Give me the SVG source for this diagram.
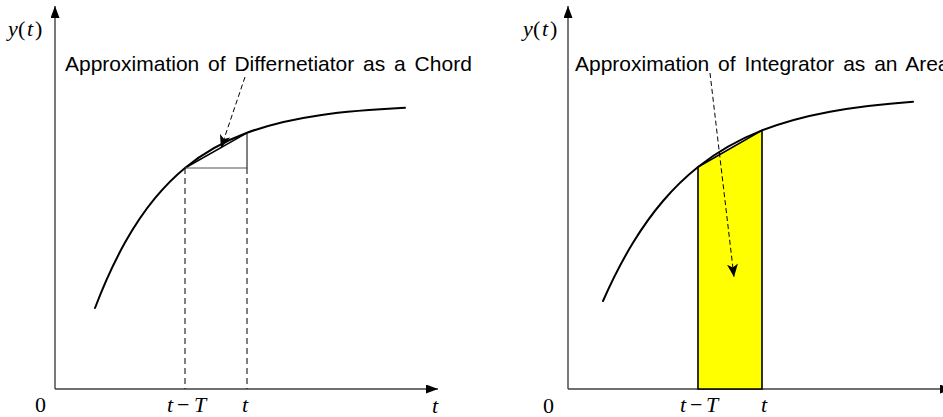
<svg xmlns="http://www.w3.org/2000/svg" width="943" height="417" viewBox="0 0 943 417">
<defs>
<style>
.axis{stroke:#404040;stroke-width:1.4;fill:none}
.curve{stroke:#000;stroke-width:2;fill:none;stroke-linecap:round}
.dash{stroke:#000;stroke-width:1;stroke-dasharray:6,4;fill:none}
.lead{stroke:#000;stroke-width:1;stroke-dasharray:5,3;fill:none}
.thin{stroke:#000;stroke-width:1;fill:none}
.lbl{font-family:"Liberation Sans",Arial,sans-serif;font-size:21px;word-spacing:3px;fill:#000}
.math{font-family:"Liberation Serif","Times New Roman",serif;font-size:22px;fill:#000}
.it{font-style:italic}
</style>
<marker id="axarrow" viewBox="0 0 12 9" refX="12" refY="4.5" markerWidth="12" markerHeight="9" markerUnits="userSpaceOnUse" orient="auto">
<path d="M0,0 L12,4.5 L0,9 Z" fill="#000"/>
</marker>
<marker id="leadarrow" viewBox="0 0 13 11" refX="13" refY="5.5" markerWidth="13" markerHeight="11" markerUnits="userSpaceOnUse" orient="auto">
<path d="M0,0 L13,5.5 L0,11 L3.5,5.5 Z" fill="#000"/>
</marker>
</defs>

<g id="left-panel">
<g id="left-axes">
<line class="axis" x1="55" y1="389" x2="55" y2="6" marker-end="url(#axarrow)"/>
<line class="axis" x1="55" y1="389" x2="438" y2="389" marker-end="url(#axarrow)"/>
</g>
<g id="left-curve">
<path class="curve" d="M95,308 C105,281.7 115,260.5 125,242.6 C135,224.8 145,210.3 155,198.2 C165,186.1 175,176.2 185,168 C205.7,151 226.3,140.5 247,132.8 C271.3,123.8 295.7,118.7 320,115.2 C348.3,111.1 376.7,109.2 405,107.8"/>
</g>
<g id="left-chord">
<line x1="185" y1="168" x2="247" y2="132.8" stroke="#000" stroke-width="1.5"/>
<line x1="185" y1="168" x2="247" y2="168" stroke="#555" stroke-width="1"/>
<line x1="247" y1="132.8" x2="247" y2="168" class="thin"/>
<line class="dash" x1="185" y1="168" x2="185" y2="389"/>
<line class="dash" x1="247" y1="168" x2="247" y2="389"/>
</g>
<g id="left-label">
<text class="lbl" x="65" y="71">Approximation of Differnetiator as a Chord</text>
<line class="lead" x1="245" y1="77" x2="221" y2="148" marker-end="url(#leadarrow)"/>
</g>
<g id="left-ticks">
<text class="math" y="36"><tspan class="it" x="8">y</tspan><tspan x="18">(</tspan><tspan class="it" x="27">t</tspan><tspan x="35">)</tspan></text>
<text class="math" x="35" y="412">0</text>
<text class="math" y="412"><tspan class="it" x="167">t</tspan><tspan x="177">−</tspan><tspan class="it" x="194">T</tspan></text>
<text class="math it" x="242" y="412">t</text>
<text class="math it" x="432" y="413">t</text>
</g>
</g>

<g id="right-panel">
<g id="right-axes">
<line class="axis" x1="568" y1="389" x2="568" y2="6" marker-end="url(#axarrow)"/>
<line class="axis" x1="568" y1="389" x2="952" y2="389" marker-end="url(#axarrow)"/>
</g>
<g id="right-area">
<path d="M698,389 L698,167 L762,130.4 L762,389 Z" fill="#ffff00" stroke="#000" stroke-width="1.6" stroke-linejoin="miter"/>
</g>
<g id="right-curve">
<path class="curve" d="M603,301 C613,278.2 623,259.2 633,242.8 C643,226.4 653,212.7 663,201 C674.7,187.3 686.3,176.3 698,167 C719.3,150 740.7,138.8 762,130.4 C784.7,121.5 807.3,115.9 830,111.7 C857.7,106.6 885.3,103.7 913,101.7"/>
</g>
<g id="right-label">
<text class="lbl" x="575" y="71">Approximation of Integrator as an Area</text>
<line class="lead" x1="710" y1="73" x2="734" y2="277" marker-end="url(#leadarrow)"/>
</g>
<g id="right-ticks">
<text class="math" y="36"><tspan class="it" x="523">y</tspan><tspan x="533">(</tspan><tspan class="it" x="542">t</tspan><tspan x="550">)</tspan></text>
<text class="math" x="543" y="413">0</text>
<text class="math" y="412"><tspan class="it" x="680">t</tspan><tspan x="690">−</tspan><tspan class="it" x="706">T</tspan></text>
<text class="math it" x="761" y="412">t</text>
</g>
</g>
</svg>
